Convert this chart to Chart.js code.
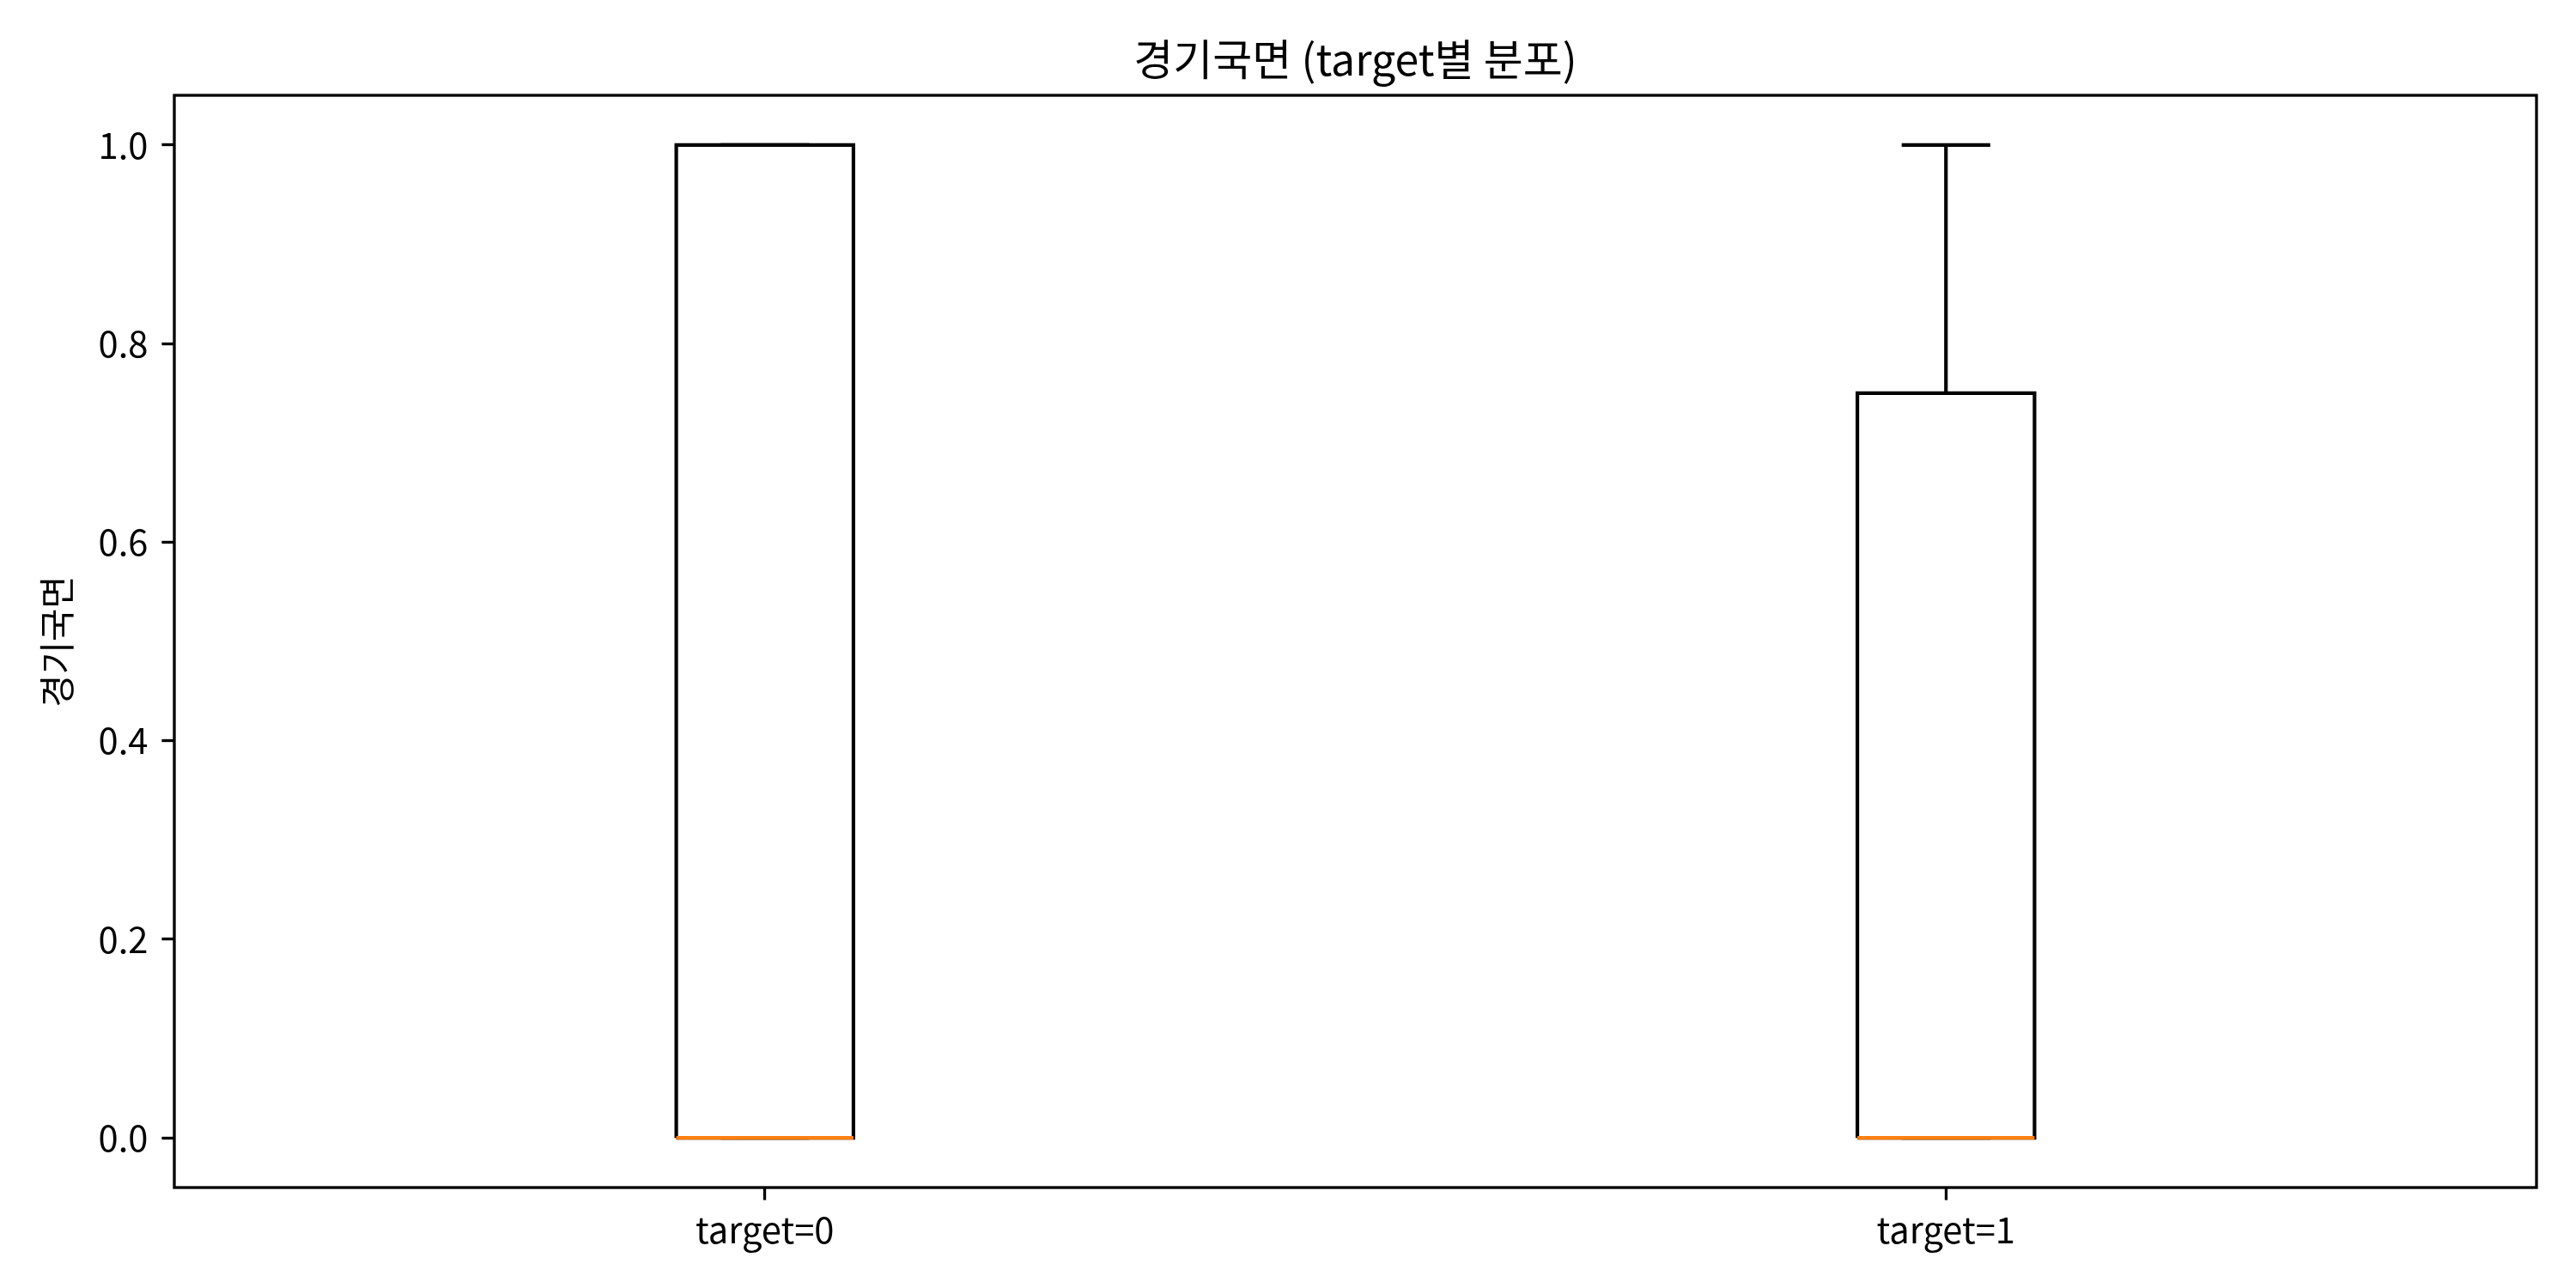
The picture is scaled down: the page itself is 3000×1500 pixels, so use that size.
<!DOCTYPE html>
<html>
<head>
<meta charset="utf-8">
<script src="https://cdn.jsdelivr.net/npm/chart.js@4/dist/chart.umd.min.js"></script>
<style>
html,body{margin:0;padding:0;background:#fff;}
canvas{display:block;}
</style>
</head>
<body>
<canvas id="c" width="3000" height="1500"></canvas>
<script>
// ---- data ----
const categories = ["target=0", "target=1"];
const positions = [1, 2];
const whiskerLow = [0, 0];
const q1 = [0, 0];
const median = [0, 0];
const q3 = [1, 0.75];
const whiskerHigh = [1, 1];
const yTicks = [0.0, 0.2, 0.4, 0.6, 0.8, 1.0];
const titleText = "경기국면 (target별 분포)";
const yLabel = "경기국면";

// ---- geometry helpers (in data units) ----
const boxWidth = 0.15;
const capWidth = boxWidth / 2;

const boxPts = [];
const whiskerPts = [];
const medianPts = [];
positions.forEach((p, i) => {
  const l = p - boxWidth / 2, r = p + boxWidth / 2;
  boxPts.push({x:l,y:q1[i]},{x:r,y:q1[i]},{x:r,y:q3[i]},{x:l,y:q3[i]},{x:l,y:q1[i]},{x:NaN,y:null});
  whiskerPts.push({x:p,y:q3[i]},{x:p,y:whiskerHigh[i]},{x:NaN,y:null});
  whiskerPts.push({x:p-capWidth/2,y:whiskerHigh[i]},{x:p+capWidth/2,y:whiskerHigh[i]},{x:NaN,y:null});
  whiskerPts.push({x:p,y:q1[i]},{x:p,y:whiskerLow[i]},{x:NaN,y:null});
  whiskerPts.push({x:p-capWidth/2,y:whiskerLow[i]},{x:p+capWidth/2,y:whiskerLow[i]},{x:NaN,y:null});
  medianPts.push({x:l,y:median[i]},{x:r,y:median[i]},{x:NaN,y:null});
});

const FONT = "'Noto Sans CJK KR', 'Noto Sans', sans-serif";
const LW = 4.17;
const SPINE = 3.33;
const TICKLEN = 14.6;

const frame = {
  id: 'frame',
  afterDatasetsDraw(chart) {
    const a = chart.chartArea, ctx = chart.ctx;
    ctx.save();
    ctx.strokeStyle = '#000';
    ctx.lineWidth = SPINE;
    ctx.strokeRect(a.left, a.top, a.right - a.left, a.bottom - a.top);
    ctx.restore();
  }
};

const lineDs = (data, color) => ({
  type: 'line', data, borderColor: color, borderWidth: LW, pointRadius: 0,
  showLine: true, spanGaps: false, fill: false, tension: 0,
  borderCapStyle: 'butt', borderJoinStyle: 'miter', xAxisID: 'x', yAxisID: 'y'
});

new Chart(document.getElementById('c'), {
  type: 'line',
  // first dataset is drawn on top: median over box over whiskers
  data: { datasets: [lineDs(medianPts, '#ff7f0e'), lineDs(boxPts, '#000'), lineDs(whiskerPts, '#000')] },
  options: {
    responsive: false, animation: false, devicePixelRatio: 1,
    layout: { padding: { left: 0, right: 46, top: 0, bottom: 0 } },
    plugins: {
      legend: { display: false }, tooltip: { enabled: false }, title: { display: false }
    },
    scales: {
      x: {
        type: 'linear', position: 'bottom', min: 0.5, max: 2.5,
        afterBuildTicks: ax => { ax.ticks = positions.map(v => ({ value: v })); },
        afterFit: ax => { ax.height = 117; },
        grid: { drawOnChartArea: false, drawTicks: true, tickLength: TICKLEN, tickWidth: SPINE, tickColor: '#000' },
        border: { display: false },
        ticks: { color: '#000', padding: 10, maxRotation: 0, autoSkip: false,
          font: { family: FONT, size: 41.7 },
          callback: v => { const i = positions.indexOf(v); return i >= 0 ? categories[i] : ''; } }
      },
      xTitle: {
        type: 'linear', position: 'top', min: 0.5, max: 2.5,
        afterBuildTicks: ax => { ax.ticks = []; },
        afterFit: ax => { ax.height = 111; },
        grid: { display: false, drawTicks: false },
        border: { display: false },
        ticks: { display: false },
        title: { display: true, text: titleText, color: '#000',
          font: { family: FONT, size: 50, lineHeight: 1.2 }, padding: { top: 39, bottom: 0 } }
      },
      y: {
        type: 'linear', min: -0.05, max: 1.05,
        afterBuildTicks: ax => { ax.ticks = yTicks.map(v => ({ value: v })); },
        afterFit: ax => { ax.width = 203; },
        grid: { drawOnChartArea: false, drawTicks: true, tickLength: TICKLEN, tickWidth: SPINE, tickColor: '#000' },
        border: { display: false },
        ticks: { color: '#000', padding: 16, font: { family: FONT, size: 41.7 },
          callback: v => Number(v).toFixed(1) },
        title: { display: true, text: yLabel, color: '#000',
          font: { family: FONT, size: 41.7 }, padding: { top: 41, bottom: 0 } }
      }
    }
  },
  plugins: [frame]
});
</script>
</body>
</html>
